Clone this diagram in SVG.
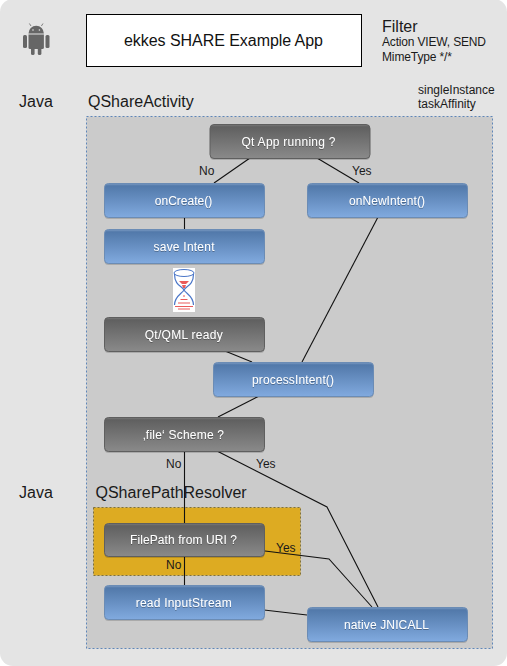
<svg xmlns="http://www.w3.org/2000/svg" width="507" height="666" viewBox="0 0 507 666">
<style>
text{font-family:"Liberation Sans",Arial,sans-serif;fill:#1a1a1a}
.n rect.b{stroke-width:1}
.blue rect.b{fill:url(#gb);stroke:#6b8cb5}
.dark rect.b{fill:url(#gd);stroke:#5f5f5f}
.s{fill:#000;opacity:.16}
.n text{fill:#fff;font-size:12px;text-anchor:middle;filter:url(#ts)}
.l{font-size:12px}
.h{font-size:16px}
.c{fill:none;stroke:#111;stroke-width:1.1}
.g{fill:#666}
</style>
<defs>
<linearGradient id="gb" x1="0" y1="0" x2="0" y2="1"><stop offset="0" stop-color="#7d9cc4"/><stop offset=".07" stop-color="#5279aa"/><stop offset="1" stop-color="#81aadf"/></linearGradient>
<linearGradient id="gd" x1="0" y1="0" x2="0" y2="1"><stop offset="0" stop-color="#7c7c7c"/><stop offset=".07" stop-color="#606060"/><stop offset="1" stop-color="#8a8a8a"/></linearGradient>
<filter id="ts" x="-10%" y="-30%" width="120%" height="170%"><feDropShadow dx="0" dy="1" stdDeviation=".4" flood-color="#000" flood-opacity=".3"/></filter>
</defs>
<rect width="507" height="666" fill="#fff"/>
<rect x="0" y="-1" width="507" height="667" rx="13" fill="#e4e4e4"/>
<rect id="panel" x="86.5" y="116.5" width="406" height="532" fill="#cbcbcb" stroke="#5f86b8" stroke-dasharray="2 2"/>
<rect id="resolver" x="93.5" y="507.5" width="207" height="68" fill="#ddab22" stroke="#7d7040" stroke-dasharray="2 2"/>
<g id="android">
<rect class="g" x="23" y="35" width="4" height="13" rx="1.5"/><rect class="g" x="45.500" y="35" width="4" height="13" rx="1.5"/>
<path class="g" d="M28.500 33.500a7.700 7.700 0 0 1 15.400 0z"/>
<path class="g" d="M28.500 34.500h15.400v13a1.500 1.500 0 0 1-1.500 1.500h-12.400a1.500 1.500 0 0 1-1.500-1.500z"/>
<rect class="g" x="31" y="47" width="3.600" height="8" rx="1.600"/><rect class="g" x="37.800" y="47" width="3.600" height="8" rx="1.600"/>
<path d="M31 26l-1.600-2.500M41.400 26l1.600-2.500" stroke="#666" stroke-width=".8"/>
<circle cx="33" cy="30" r=".8" fill="#e4e4e4"/><circle cx="39.400" cy="30" r=".8" fill="#e4e4e4"/>
</g>
<g id="app"><rect x="86.500" y="14.500" width="275" height="52" fill="#fff" stroke="#000"/><text x="223.500" y="46" text-anchor="middle" textLength="199" style="font-size:16px;fill:#111">ekkes SHARE Example App</text></g>
<text class="h" x="382" y="32">Filter</text>
<text class="l" x="382" y="46" textLength="104">Action VIEW, SEND</text>
<text class="l" x="382" y="61" textLength="70">MimeType */*</text>
<text class="l" x="418" y="94">singleInstance</text>
<text class="l" x="418" y="108">taskAffinity</text>
<text class="h" x="19" y="107">Java</text>
<text class="h" x="88" y="107">QShareActivity</text>
<text class="h" x="19" y="498">Java</text>
<g id="connectors">
<path class="c" d="M250 158L214 183"/>
<path class="c" d="M317 158L359 183"/>
<path class="c" d="M184.500 217V229"/>
<path class="c" d="M377.500 218L302 362"/>
<path class="c" d="M225 351L252 362"/>
<path class="c" d="M259 396L218 417"/>
<path class="c" d="M184.500 451V585"/>
<path class="c" d="M217 451L327 507L378 607"/>
<path class="c" d="M265 551L329 559L372 607"/>
<path class="c" d="M264 610L307 615"/>
</g>
<text class="h" x="95.500" y="498">QSharePathResolver</text>
<text class="l" x="199" y="175">No</text>
<text class="l" x="352" y="175">Yes</text>
<text class="l" x="166" y="468">No</text>
<text class="l" x="256" y="468">Yes</text>
<text class="l" x="276" y="552">Yes</text>
<text class="l" x="166" y="569">No</text>
<g id="hourglass">
<rect x="173" y="268" width="22" height="44" fill="#fff"/>
<ellipse cx="184" cy="273" rx="10" ry="3.500" fill="none" stroke="#4a76c8"/>
<path d="M174.500 274c0 12 8 12 9.500 16c1.500-4 9.500-4 9.500-16M174.500 305c0-9 7-11 9.500-15c2.500 4 9.500 6 9.500 15" fill="none" stroke="#4a76c8" stroke-width="1.200"/>
<path d="M179 281h10l-3 3h-4zM182 285h4l-1 3h-2z" fill="#ea5b5b"/>
<path d="M183 296h2M180.500 299.500h7M178 303h12M175 306.500h18M178 309h12" stroke="#ea5b5b"/>
</g>
<g id="qtrunning" class="n dark"><rect class="s" x="210" y="126" width="160" height="34" rx="4"/><rect class="b" x="210" y="124.500" width="160" height="34" rx="4"/><text x="288.500" y="146" textLength="94">Qt App running ?</text></g>
<g id="oncreate" class="n blue"><rect class="s" x="104.500" y="185" width="160" height="34" rx="4"/><rect class="b" x="104.500" y="183.500" width="160" height="34" rx="4"/><text x="183.500" y="205">onCreate()</text></g>
<g id="onnewintent" class="n blue"><rect class="s" x="307.500" y="185" width="160" height="34" rx="4"/><rect class="b" x="307.500" y="183.500" width="160" height="34" rx="4"/><text x="387" y="205" textLength="76">onNewIntent()</text></g>
<g id="saveintent" class="n blue"><rect class="s" x="104.500" y="231" width="160" height="34" rx="4"/><rect class="b" x="104.500" y="229.500" width="160" height="34" rx="4"/><text x="184" y="251" textLength="61">save Intent</text></g>
<g id="qmlready" class="n dark"><rect class="s" x="104.500" y="319" width="160" height="34" rx="4"/><rect class="b" x="104.500" y="317.500" width="160" height="34" rx="4"/><text x="183.700" y="339" textLength="78">Qt/QML ready</text></g>
<g id="processintent" class="n blue"><rect class="s" x="213.500" y="364" width="160" height="34" rx="4"/><rect class="b" x="213.500" y="362.500" width="160" height="34" rx="4"/><text x="293" y="384" textLength="82">processIntent()</text></g>
<g id="filescheme" class="n dark"><rect class="s" x="104.500" y="419" width="160" height="34" rx="4"/><rect class="b" x="104.500" y="417.500" width="160" height="34" rx="4"/><text x="183.500" y="439" textLength="81">‚file‘ Scheme ?</text></g>
<g id="filepath" class="n dark"><rect class="s" x="104.500" y="525" width="160" height="33" rx="4"/><rect class="b" x="104.500" y="523.500" width="160" height="33" rx="4"/><text x="183.500" y="544" textLength="107">FilePath from URI ?</text></g>
<g id="readstream" class="n blue"><rect class="s" x="104.500" y="587" width="160" height="34" rx="4"/><rect class="b" x="104.500" y="585.500" width="160" height="34" rx="4"/><text x="183.700" y="607" textLength="96">read InputStream</text></g>
<g id="jnicall" class="n blue"><rect class="s" x="307.500" y="609" width="160" height="34" rx="4"/><rect class="b" x="307.500" y="607.500" width="160" height="34" rx="4"/><text x="386.500" y="629" textLength="85">native JNICALL</text></g>
</svg>
